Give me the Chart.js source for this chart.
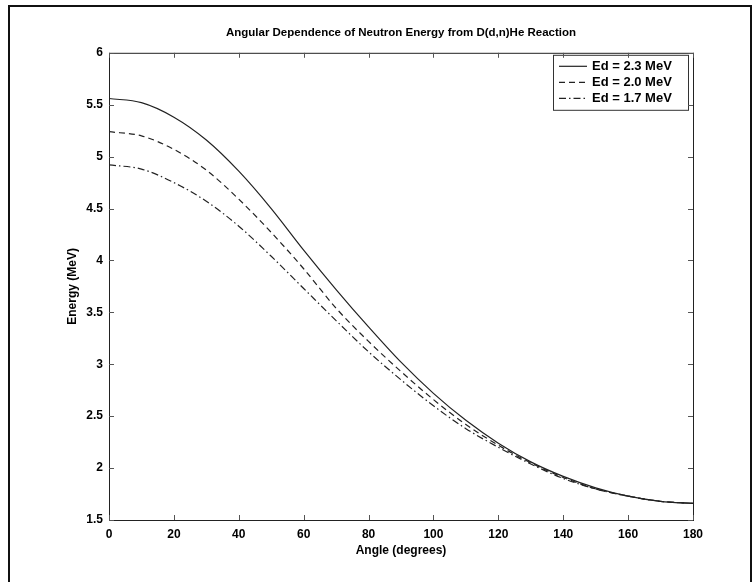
<!DOCTYPE html>
<html>
<head>
<meta charset="utf-8">
<script src="https://cdn.jsdelivr.net/npm/chart.js@4"></script>
<style>
  html, body { margin: 0; padding: 0; background: #fff; }
  #wrap { position: relative; width: 754px; height: 582px; overflow: hidden; }
  #frame { position: absolute; left: 8px; top: 5px; width: 740px; height: 600px; border: 2px solid #111; border-bottom: none; }
  canvas { position: absolute; left: 0; top: 0; }
</style>
</head>
<body>
<div id="wrap">
  <div id="frame"></div>
  <canvas id="chart" width="754" height="582"></canvas>
</div>
<script>
// values
const angles   = [0, 10, 20, 30, 40, 50, 60, 70, 80, 90, 100, 110, 120, 130, 140, 150, 160, 170, 180];
const energy23 = [5.56, 5.52, 5.38, 5.16, 4.86, 4.50, 4.10, 3.72, 3.36, 3.02, 2.72, 2.46, 2.24, 2.06, 1.92, 1.81, 1.73, 1.68, 1.66];
const energy20 = [5.24, 5.20, 5.07, 4.87, 4.59, 4.27, 3.92, 3.54, 3.22, 2.93, 2.66, 2.42, 2.22, 2.05, 1.91, 1.80, 1.73, 1.68, 1.66];
const energy17 = [4.92, 4.88, 4.75, 4.57, 4.33, 4.04, 3.73, 3.42, 3.12, 2.85, 2.60, 2.38, 2.20, 2.04, 1.90, 1.80, 1.73, 1.68, 1.66];
const seriesLabels = ["Ed = 2.3 MeV", "Ed = 2.0 MeV", "Ed = 1.7 MeV"];
const xTicks = [0, 20, 40, 60, 80, 100, 120, 140, 160, 180];
const yTicks = [1.5, 2, 2.5, 3, 3.5, 4, 4.5, 5, 5.5, 6];

const FONT = '"Liberation Sans", Arial, sans-serif';

function pts(ys) {
  return angles.map((a, i) => ({ x: a, y: ys[i] }));
}

// axes box with inward ticks, matlab style
const axesBox = {
  id: "axesBox",
  afterDraw(chart) {
    const { ctx, chartArea: a, scales } = chart;
    ctx.save();
    ctx.strokeStyle = "#222";
    ctx.lineWidth = 1;
    ctx.strokeRect(a.left + 0.5, a.top + 0.5, a.right - a.left, a.bottom - a.top);
    ctx.strokeStyle = "#555";
    ctx.beginPath();
    xTicks.forEach(v => {
      const x = Math.round(scales.x.getPixelForValue(v)) + 0.5;
      ctx.moveTo(x, a.bottom); ctx.lineTo(x, a.bottom - 5);
      ctx.moveTo(x, a.top); ctx.lineTo(x, a.top + 5);
    });
    yTicks.forEach(v => {
      const y = Math.round(scales.y.getPixelForValue(v)) + 0.5;
      ctx.moveTo(a.left, y); ctx.lineTo(a.left + 5, y);
      ctx.moveTo(a.right, y); ctx.lineTo(a.right - 5, y);
    });
    ctx.stroke();
    ctx.restore();
  }
};

// boxed legend in the top right corner
const legendBox = {
  id: "legendBox",
  afterDatasetsDraw(chart) {
    const { ctx, chartArea: a } = chart;
    const w = 135, h = 55;
    const x0 = a.right - w - 5, y0 = a.top + 2;
    ctx.save();
    ctx.fillStyle = "#fff";
    ctx.fillRect(x0, y0, w, h);
    ctx.strokeStyle = "#333";
    ctx.lineWidth = 1;
    ctx.strokeRect(x0 + 0.5, y0 + 0.5, w, h);
    chart.data.datasets.forEach((ds, i) => {
      const y = y0 + 11.5 + i * 16;
      ctx.strokeStyle = ds.borderColor;
      ctx.lineWidth = ds.borderWidth;
      ctx.setLineDash(ds.borderDash || []);
      ctx.beginPath();
      ctx.moveTo(x0 + 6, y);
      ctx.lineTo(x0 + 34, y);
      ctx.stroke();
      ctx.setLineDash([]);
      ctx.fillStyle = "#000";
      ctx.font = "bold 13px " + FONT;
      ctx.textBaseline = "middle";
      ctx.fillText(ds.label, x0 + 39, y);
    });
    ctx.restore();
  }
};

new Chart(document.getElementById("chart"), {
  type: "line",
  data: {
    datasets: [
      { label: seriesLabels[0], data: pts(energy23), borderColor: "#222", borderWidth: 1.2, borderDash: [] },
      { label: seriesLabels[1], data: pts(energy20), borderColor: "#222", borderWidth: 1.2, borderDash: [6, 4] },
      { label: seriesLabels[2], data: pts(energy17), borderColor: "#222", borderWidth: 1.2, borderDash: [7, 3, 1.5, 3] }
    ]
  },
  options: {
    responsive: false,
    animation: false,
    devicePixelRatio: 1,
    layout: { padding: { left: 0, top: 0, right: 61, bottom: 0 } },
    elements: {
      point: { radius: 0 },
      line: { cubicInterpolationMode: "monotone", fill: false }
    },
    plugins: {
      legend: { display: false },
      tooltip: { enabled: false },
      title: {
        display: true,
        fullSize: false,
        text: "Angular Dependence of Neutron Energy from D(d,n)He Reaction",
        color: "#000",
        font: { family: FONT, size: 11.5, weight: "bold" },
        padding: { top: 26, bottom: 13 }
      }
    },
    scales: {
      x: {
        type: "linear",
        min: 0,
        max: 180,
        afterBuildTicks: s => { s.ticks = xTicks.map(v => ({ value: v })); },
        afterFit: s => { s.height = 62; },
        grid: { display: false, drawTicks: false },
        border: { display: false },
        ticks: { color: "#000", padding: 7, maxRotation: 0, font: { family: FONT, size: 12, weight: "bold" } },
        title: {
          display: true,
          text: "Angle (degrees)",
          color: "#000",
          font: { family: FONT, size: 12, weight: "bold" },
          padding: { top: 0, bottom: 24 }
        }
      },
      y: {
        min: 1.5,
        max: 6,
        afterBuildTicks: s => { s.ticks = yTicks.map(v => ({ value: v })); },
        afterFit: s => { s.width = 109; },
        grid: { display: false, drawTicks: false },
        border: { display: false },
        ticks: {
          color: "#000",
          padding: 6,
          font: { family: FONT, size: 12, weight: "bold" },
          callback: v => String(v)
        },
        title: {
          display: true,
          text: "Energy (MeV)",
          color: "#000",
          font: { family: FONT, size: 12, weight: "bold" },
          padding: { top: 65, bottom: 0 }
        }
      }
    }
  },
  plugins: [axesBox, legendBox]
});
</script>
</body>
</html>
